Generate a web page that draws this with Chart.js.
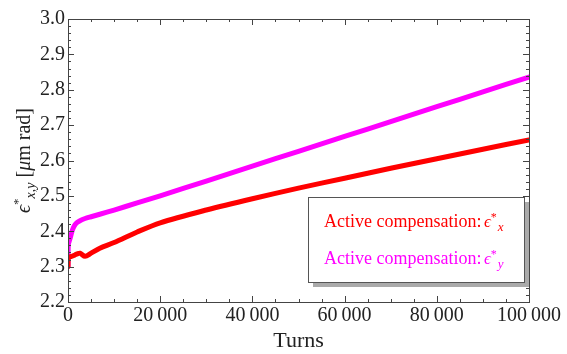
<!DOCTYPE html>
<html>
<head>
<meta charset="utf-8">
<script src="https://cdn.jsdelivr.net/npm/chart.js@4/dist/chart.umd.min.js"></script>
<style>
  html, body { margin: 0; padding: 0; background: #fff; }
  canvas { display: block; }
</style>
</head>
<body>
<canvas id="chart" width="567" height="354"></canvas>
<script>
// Turns (x values)
const turnsX = [0, 60, 500, 1000, 1500, 2000, 2600, 3700, 5000, 6900, 10000, 15000, 20000, 30000, 40000, 50000, 60000, 70000, 80000, 90000, 100000];
// Active compensation, horizontal emittance
const epsX = [2.300, 2.325, 2.328, 2.330, 2.333, 2.336, 2.338, 2.329, 2.338, 2.352, 2.368, 2.398, 2.424, 2.460, 2.492, 2.522, 2.550, 2.578, 2.605, 2.632, 2.658];
// Active compensation, vertical emittance
const epsY = [2.300, 2.360, 2.382, 2.405, 2.418, 2.425, 2.430, 2.436, 2.441, 2.448, 2.460, 2.480, 2.500, 2.542, 2.584, 2.626, 2.668, 2.710, 2.752, 2.794, 2.836];

const xTicks = [0, 20000, 40000, 60000, 80000, 100000];
const yTicks = [2.2, 2.3, 2.4, 2.5, 2.6, 2.7, 2.8, 2.9, 3.0];

const SERIF = '"Liberation Serif", "DejaVu Serif", serif';
const RED = '#ff0000';
const MAGENTA = '#ff00ff';
const EPS = '\u03F5';

function toPoints(xs, ys) {
  return xs.map((x, i) => ({ x: x, y: ys[i] }));
}

function fmtTurns(v) {
  return String(v).replace(/\B(?=(\d{3})+(?!\d))/g, '\u2009');
}

// frame, inward ticks on all sides, legend box and y title
const decorations = {
  id: 'decorations',
  afterDraw(chart) {
    const ctx = chart.ctx;
    const a = chart.chartArea;
    const xs = chart.scales.x, ys = chart.scales.y;
    ctx.save();
    ctx.strokeStyle = '#444';
    ctx.lineWidth = 1;
    ctx.strokeRect(a.left + 0.5, a.top + 0.5, a.right - a.left, a.bottom - a.top);

    ctx.beginPath();
    for (let v = 0; v <= 100000; v += 5000) {
      const px = Math.round(xs.getPixelForValue(v)) + 0.5;
      const len = v % 20000 === 0 ? 6 : 3;
      ctx.moveTo(px, a.bottom); ctx.lineTo(px, a.bottom - len);
      ctx.moveTo(px, a.top); ctx.lineTo(px, a.top + len);
    }
    for (let i = 0; i <= 40; i++) {
      const v = 2.2 + i * 0.02;
      const py = Math.round(ys.getPixelForValue(v)) + 0.5;
      const len = i % 5 === 0 ? 6 : 3;
      ctx.moveTo(a.left, py); ctx.lineTo(a.left + len, py);
      ctx.moveTo(a.right, py); ctx.lineTo(a.right - len, py);
    }
    ctx.stroke();

    // legend
    const bx = 308, by = 197, bw = 216, bh = 85;
    ctx.fillStyle = '#aaa';
    ctx.fillRect(bx + 5, by + 5, bw, bh);
    ctx.fillStyle = '#fff';
    ctx.fillRect(bx, by, bw, bh);
    ctx.strokeStyle = '#555';
    ctx.strokeRect(bx + 0.5, by + 0.5, bw, bh);
    const drawEntry = (y, color, sub) => {
      ctx.fillStyle = color;
      ctx.textBaseline = 'alphabetic';
      ctx.textAlign = 'left';
      let x = 324;
      ctx.font = '18px ' + SERIF;
      const label = 'Active compensation: ';
      ctx.fillText(label, x, y);
      x += ctx.measureText(label).width - 2;
      ctx.font = 'italic 17px ' + SERIF;
      ctx.fillText(EPS, x, y);
      x += ctx.measureText(EPS).width;
      ctx.font = '12px ' + SERIF;
      ctx.fillText('*', x, y - 6);
      x += ctx.measureText('*').width + 1;
      ctx.font = 'italic 13px ' + SERIF;
      ctx.fillText(sub, x, y + 4);
    };
    drawEntry(227, RED, 'x');
    drawEntry(264, MAGENTA, 'y');

    // y axis title, rotated
    ctx.translate(30, 213);
    ctx.rotate(-Math.PI / 2);
    ctx.fillStyle = '#222';
    ctx.textAlign = 'left';
    ctx.textBaseline = 'alphabetic';
    let x = 0;
    const part = (txt, font, dy) => {
      ctx.font = font;
      ctx.fillText(txt, x, dy);
      x += ctx.measureText(txt).width;
    };
    part(EPS, 'italic 20px ' + SERIF, 0);
    part('*', '13px ' + SERIF, -8);
    part('x,y', 'italic 14px ' + SERIF, 5);
    part(' [', '20px ' + SERIF, 0);
    part('\u03BC', 'italic 20px ' + SERIF, 0);
    part('m rad]', '20px ' + SERIF, 0);
    ctx.restore();
  }
};

new Chart(document.getElementById('chart'), {
  type: 'line',
  data: {
    datasets: [
      {
        label: 'Active compensation: \u03F5*x',
        data: toPoints(turnsX, epsX),
        borderColor: RED,
        borderWidth: 5,
        pointRadius: 0,
        tension: 0.3,
        borderCapStyle: 'round'
      },
      {
        label: 'Active compensation: \u03F5*y',
        data: toPoints(turnsX, epsY),
        borderColor: MAGENTA,
        borderWidth: 5,
        pointRadius: 0,
        tension: 0.3,
        borderCapStyle: 'round'
      }
    ]
  },
  options: {
    responsive: false,
    animation: false,
    devicePixelRatio: 1,
    layout: { padding: { left: 0, top: 19, right: 38, bottom: 0 } },
    plugins: { legend: { display: false }, tooltip: { enabled: false } },
    scales: {
      x: {
        type: 'linear',
        min: 0, max: 100000,
        afterBuildTicks(scale) { scale.ticks = xTicks.map(v => ({ value: v })); },
        afterFit(scale) { scale.height = 52; },
        grid: { display: false, drawTicks: false },
        border: { display: false },
        ticks: {
          color: '#222', font: { family: SERIF, size: 20 }, padding: 2,
          maxRotation: 0, autoSkip: false,
          callback: v => fmtTurns(v)
        },
        title: {
          display: true, text: 'Turns', color: '#222',
          font: { family: SERIF, size: 22 }, padding: { top: 0, bottom: 0 }
        }
      },
      y: {
        min: 2.2, max: 3.0,
        afterBuildTicks(scale) { scale.ticks = yTicks.map(v => ({ value: v })); },
        afterFit(scale) { scale.width = 68; },
        grid: { display: false, drawTicks: false },
        border: { display: false },
        ticks: {
          color: '#222', font: { family: SERIF, size: 20 }, padding: 3,
          autoSkip: false,
          callback: v => v.toFixed(1)
        }
      }
    }
  },
  plugins: [decorations]
});
</script>
</body>
</html>
